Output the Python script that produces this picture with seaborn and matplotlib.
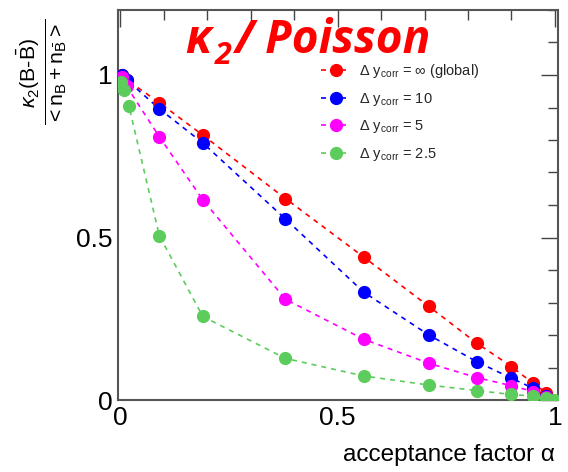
import numpy as np
import pandas as pd
import matplotlib
matplotlib.use("Agg")
import matplotlib.pyplot as plt
import seaborn as sns
from matplotlib.ticker import MultipleLocator, FixedLocator
from matplotlib.lines import Line2D

# ---- data ----
labels = [r"$\Delta$ y$_{\rm corr}$ = $\infty$ (global)",
          r"$\Delta$ y$_{\rm corr}$ = 10",
          r"$\Delta$ y$_{\rm corr}$ = 5",
          r"$\Delta$ y$_{\rm corr}$ = 2.5"]
colors = ["#ff0000", "#0000ff", "#ff00ff", "#5ccd5c"]

x_red = [0.005, 0.015, 0.09, 0.19, 0.38, 0.56, 0.71, 0.82, 0.90, 0.95, 0.98]
y_red = [1.0, 0.985, 0.915, 0.815, 0.62, 0.44, 0.288, 0.175, 0.103, 0.051, 0.022]

x_blue = [0.005, 0.015, 0.09, 0.19, 0.38, 0.56, 0.71, 0.82, 0.90, 0.95, 0.98]
y_blue = [1.0, 0.985, 0.896, 0.791, 0.557, 0.332, 0.2, 0.118, 0.067, 0.036, 0.012]

x_mag = [0.005, 0.015, 0.09, 0.19, 0.38, 0.56, 0.71, 0.82, 0.90, 0.95, 0.98]
y_mag = [0.995, 0.965, 0.81, 0.616, 0.31, 0.187, 0.113, 0.069, 0.044, 0.026, 0.01]

x_green = [0.003, 0.008, 0.02, 0.09, 0.19, 0.38, 0.56, 0.71, 0.82, 0.90, 0.95, 0.98, 0.997]
y_green = [0.98, 0.955, 0.905, 0.506, 0.257, 0.128, 0.074, 0.046, 0.029, 0.017, 0.012, 0.005, 0.0]

xs = [x_red, x_blue, x_mag, x_green]
ys = [y_red, y_blue, y_mag, y_green]

frames = []
for lab, xv, yv in zip(labels, xs, ys):
    frames.append(pd.DataFrame({"alpha": xv, "ratio": yv, "series": lab}))
df = pd.concat(frames, ignore_index=True)

# ---- style ----
sns.set_theme(style="white")
plt.rcParams["font.family"] = ["Liberation Sans", "DejaVu Sans"]
plt.rcParams["mathtext.fontset"] = "custom"
plt.rcParams["mathtext.rm"] = "Liberation Sans"
plt.rcParams["mathtext.it"] = "Liberation Sans:italic"
plt.rcParams["mathtext.bf"] = "Liberation Sans:bold"
plt.rcParams["mathtext.sf"] = "Liberation Sans"

fig = plt.figure(figsize=(5.68, 4.72), dpi=100)
ax = fig.add_axes([118 / 568, 72 / 472, 440 / 568, 390 / 472])

palette = dict(zip(labels, colors))
sns.lineplot(data=df, x="alpha", y="ratio", hue="series", palette=palette,
             hue_order=labels, sort=False, estimator=None, ax=ax,
             linestyle=(0, (3, 3)), linewidth=1.2, legend=False)
for lab, xv, yv, c in zip(labels, xs, ys, colors):
    ax.plot(xv, yv, linestyle="none", marker="o", markersize=8.5,
            color=c, markeredgecolor=c, zorder=5)

ax.set_xlim(-0.005, 1.007)
ax.set_ylim(0, 1.2)
ax.set_xlabel("")
ax.set_ylabel("")

ax.xaxis.set_major_locator(FixedLocator([0, 0.5, 1]))
ax.yaxis.set_major_locator(FixedLocator([0, 0.5, 1]))
ax.xaxis.set_minor_locator(MultipleLocator(0.1))
ax.yaxis.set_minor_locator(MultipleLocator(0.1))
ax.set_xticklabels(["0", "0.5", "1"])
ax.set_yticklabels(["0", "0.5", "1"])
ax.tick_params(which="both", direction="in", top=True, right=True,
               labelsize=19, colors="#444444", labelcolor="#000000", width=1.0)
ax.tick_params(which="major", length=12, pad=4)
ax.tick_params(which="minor", length=7)
for s in ax.spines.values():
    s.set_color("#555555")
    s.set_linewidth(1.5)

fig.text(555 / 568, 1 - 455 / 472, "acceptance factor α", ha="right",
         va="center", fontsize=17.5, color="#000000")
fig.text(42 / 568, 1 - 72 / 472,
         r"$\frac{\kappa_2(\mathrm{B}\text{-}\bar{\mathrm{B}})}{<\mathrm{n_B}+\mathrm{n_{\bar{B}}}>}$",
         rotation=90, ha="center", va="center", fontsize=22, color="#000000")

# title
tfont = dict(family=["Open Sans", "DejaVu Sans"], weight="bold", style="italic",
             color="#ff0000", va="baseline")
fig.text(185 / 568, 1 - 53 / 472, "κ", fontsize=33, **tfont)
fig.text(215 / 568, 1 - 64 / 472, "2", fontsize=22, **tfont)
fig.text(234 / 568, 1 - 53 / 472, "/ Poisson", fontsize=33, **tfont)

handles = [Line2D([0], [0], color=c, linestyle=(0, (3, 3)), linewidth=1.2,
                  marker="o", markersize=8.5) for c in colors]
leg = ax.legend(handles, labels, loc="upper left", frameon=False,
                fontsize=10.5, handlelength=2.0, labelspacing=0.72,
                handletextpad=0.6, borderaxespad=0.0, borderpad=0.3)
leg.set_bbox_to_anchor((317 / 568, 1 - 58 / 472), transform=fig.transFigure)

fig.savefig("out.png", dpi=100)
